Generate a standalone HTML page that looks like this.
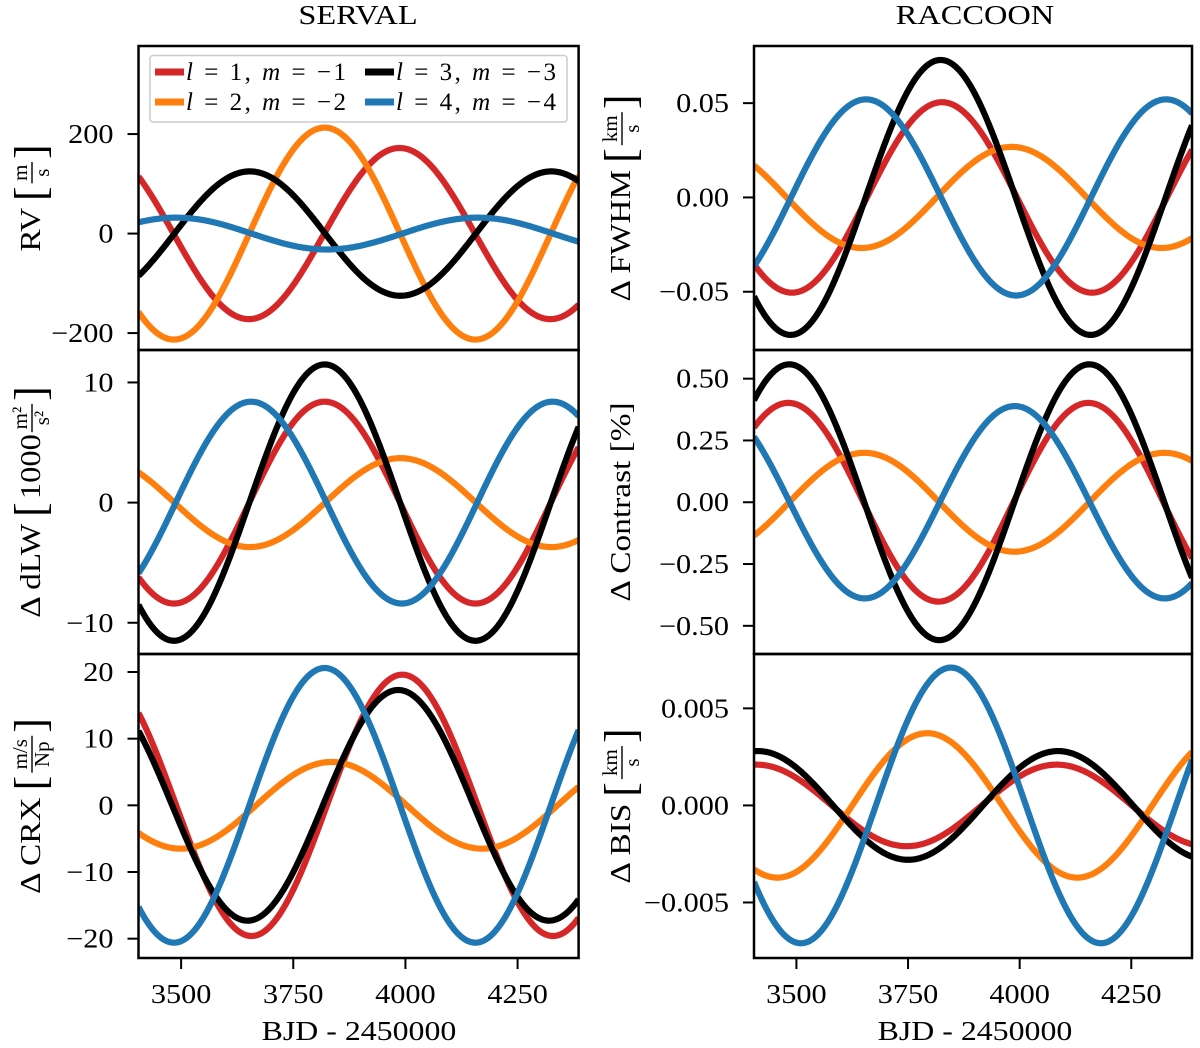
<!DOCTYPE html>
<html><head><meta charset="utf-8"><title>SERVAL vs RACCOON</title>
<style>
html,body{margin:0;padding:0;background:#fff;}
svg{display:block;font-family:"Liberation Serif","DejaVu Serif",serif;}
</style></head>
<body>
<svg id="fig" width="1200" height="1048" viewBox="0 0 1200 1048" xmlns="http://www.w3.org/2000/svg"></svg>
<script>
// ---- data ----
const seriesNames = ["l1m-1", "l2m-2", "l3m-3", "l4m-4"];
const seriesColors = ["#d62728", "#ff7f0e", "#000000", "#1f77b4"];
const periodDays = 672;
const xTicks = [3500, 3750, 4000, 4250];
const xLimits = [3405, 4386];

const rvAmp = [172, 213, 125, 32];
const rvPeak = [3987, 3820, 3653, 3489];
const dlwAmp = [8.4, 3.7, 11.5, 8.4];
const dlwPeak = [3820, 3989, 3820, 3656];
const crxAmp = [19.6, 6.5, 17.3, 20.6];
const crxPeak = [3993, 3835, 3984, 3820];
const fwhmAmp = [0.0505, 0.0268, 0.0729, 0.052];
const fwhmPeak = [3826, 3982, 3823, 3656];
const contrastAmp = [0.402, 0.2, 0.558, 0.389];
const contrastPeak = [3482, 3652, 3484, 3989];
const bisAmp = [0.0021, 0.00372, 0.0028, 0.0071];
const bisPeak = [4083, 3793, 4086, 3846];

const rvTicks = [-200, 0, 200];
const rvTickLabels = ["\u2212200", "0", "200"];
const dlwTicks = [-10, 0, 10];
const dlwTickLabels = ["\u221210", "0", "10"];
const crxTicks = [-20, -10, 0, 10, 20];
const crxTickLabels = ["\u221220", "\u221210", "0", "10", "20"];
const fwhmTicks = [-0.05, 0, 0.05];
const fwhmTickLabels = ["\u22120.05", "0.00", "0.05"];
const contrastTicks = [-0.5, -0.25, 0, 0.25, 0.5];
const contrastTickLabels = ["\u22120.50", "\u22120.25", "0.00", "0.25", "0.50"];
const bisTicks = [-0.005, 0, 0.005];
const bisTickLabels = ["\u22120.005", "0.000", "0.005"];

// ---- layout ----
const NS = "http://www.w3.org/2000/svg";
const svg = document.getElementById("fig");
function el(tag, attrs, parent) {
  const e = document.createElementNS(NS, tag);
  for (const k in attrs) e.setAttribute(k, attrs[k]);
  (parent || svg).appendChild(e);
  return e;
}
function widen(t, f) {
  const w = t.getComputedTextLength();
  if (w > 0) { t.setAttribute("textLength", (w * f).toFixed(1)); t.setAttribute("lengthAdjust", "spacingAndGlyphs"); }
  return w * f;
}
const cols = [{x0: 138.5, x1: 578.6}, {x0: 754, x1: 1192}];
const rows = [{y0: 46, y1: 350}, {y0: 350, y1: 654}, {y0: 654, y1: 958}];

const panels = [
  {name: "rv-panel", c: 0, r: 0, amp: rvAmp, peak: rvPeak, ylim: [-234, 377], ticks: rvTicks, labels: rvTickLabels},
  {name: "dlw-panel", c: 0, r: 1, amp: dlwAmp, peak: dlwPeak, ylim: [-12.6, 12.7], ticks: dlwTicks, labels: dlwTickLabels},
  {name: "crx-panel", c: 0, r: 2, amp: crxAmp, peak: crxPeak, ylim: [-22.9, 22.7], ticks: crxTicks, labels: crxTickLabels},
  {name: "fwhm-panel", c: 1, r: 0, amp: fwhmAmp, peak: fwhmPeak, ylim: [-0.0809, 0.0803], ticks: fwhmTicks, labels: fwhmTickLabels},
  {name: "contrast-panel", c: 1, r: 1, amp: contrastAmp, peak: contrastPeak, ylim: [-0.614, 0.616], ticks: contrastTicks, labels: contrastTickLabels},
  {name: "bis-panel", c: 1, r: 2, amp: bisAmp, peak: bisPeak, ylim: [-0.00786, 0.0078], ticks: bisTicks, labels: bisTickLabels}
];

panels.forEach((p, pi) => {
  const col = cols[p.c], row = rows[p.r];
  const xs = v => col.x0 + (v - xLimits[0]) / (xLimits[1] - xLimits[0]) * (col.x1 - col.x0);
  const ys = v => row.y1 - (v - p.ylim[0]) / (p.ylim[1] - p.ylim[0]) * (row.y1 - row.y0);
  const g = el("g", {});
  
  
  const cid = "clip" + pi;
  const cp = el("clipPath", {id: cid}, g);
  el("rect", {x: col.x0, y: row.y0, width: col.x1 - col.x0, height: row.y1 - row.y0}, cp);
  const curves = el("g", {"clip-path": "url(#" + cid + ")"}, g);
  for (let s = 0; s < 4; s++) {
    let d = "";
    for (let i = 0; i <= 300; i++) {
      const t = xLimits[0] + (xLimits[1] - xLimits[0]) * i / 300;
      const v = p.amp[s] * Math.cos(2 * Math.PI * (t - p.peak[s]) / periodDays);
      d += (i ? "L" : "M") + xs(t).toFixed(2) + "," + ys(v).toFixed(2);
    }
    const path = el("path", {d: d, fill: "none", stroke: seriesColors[s], "stroke-width": 6.2, "stroke-linejoin": "round"}, curves);
    
    
  }
  p.ticks.forEach((tv, i) => {
    const y = ys(tv);
    const tk = el("line", {x1: col.x0 - 11, x2: col.x0, y1: y, y2: y, stroke: "#000", "stroke-width": 2}, g);
    
    
    const tl = el("text", {x: col.x0 - 25, y: y + 9, "text-anchor": "end", "font-size": 27}, g);
    tl.textContent = p.labels[i];
    
    
    widen(tl, 1.12);
  });
  if (p.r === 2) {
    xTicks.forEach(tv => {
      const x = xs(tv);
      const tk = el("line", {x1: x, x2: x, y1: row.y1, y2: row.y1 + 11, stroke: "#000", "stroke-width": 2}, g);
      
      
      const tl = el("text", {x: x, y: 1003, "text-anchor": "middle", "font-size": 27}, g);
      tl.textContent = String(tv);
      
      
      widen(tl, 1.12);
    });
  }
  const frame = el("rect", {x: col.x0, y: row.y0, width: col.x1 - col.x0, height: row.y1 - row.y0, fill: "none", stroke: "#000", "stroke-width": 2.5}, g);
  
  
});

function txt(x, y, s, size, name, f) {
  const t = el("text", {x: x, y: y, "text-anchor": "middle", "font-size": size});
  t.textContent = s;
  
  
  widen(t, f);
  return t;
}
txt(358, 24, "SERVAL", 27, "serval-title", 1.2);
txt(975, 24, "RACCOON", 27, "raccoon-title", 1.2);
txt(359, 1040, "BJD - 2450000", 27, "x-axis-title-left", 1.18);
txt(975, 1040, "BJD - 2450000", 27, "x-axis-title-right", 1.18);

function yLabel(cx, cy, prefix, inner, num, den, name) {
  const g = el("g", {transform: "translate(" + cx + "," + cy + ") rotate(-90)"});
  
  
  let x = 0;
  const a = el("text", {x: 0, y: 10, "font-size": 29}, g);
  a.textContent = prefix;
  x += widen(a, 1.15) + 7;
  const lb = el("text", {x: x, y: 15, "font-size": 44}, g);
  lb.textContent = "[";
  x += lb.getComputedTextLength() + 3;
  if (inner) {
    const it = el("text", {x: x, y: 10, "font-size": 29}, g);
    it.textContent = inner;
    x += widen(it, 1.12) + 2;
  }
  if (num) {
    const n = el("text", {x: 0, y: -3, "font-size": 21, "text-anchor": "middle"}, g);
    n.textContent = num;
    const dd = el("text", {x: 0, y: 19, "font-size": 21, "text-anchor": "middle"}, g);
    dd.textContent = den;
    const w = Math.max(n.getComputedTextLength(), dd.getComputedTextLength()) * 1.12 + 3;
    n.setAttribute("x", x + w / 2);
    dd.setAttribute("x", x + w / 2);
    el("line", {x1: x, x2: x + w, y1: 2, y2: 2, stroke: "#000", "stroke-width": 1.4}, g);
    x += w + 3;
  }
  const rb = el("text", {x: x, y: 15, "font-size": 44}, g);
  rb.textContent = "]";
  x += rb.getComputedTextLength();
  g.setAttribute("transform", "translate(" + cx + "," + cy + ") rotate(-90) translate(" + (-x / 2) + ",0)");
}
yLabel(30, 198, "RV", "", "m", "s", "rv-axis-title");
yLabel(30, 502, "\u0394 dLW", "1000", "m\u00b2", "s\u00b2", "dlw-axis-title");
yLabel(30, 806, "\u0394 CRX", "", "m/s", "Np", "crx-axis-title");
yLabel(620, 198, "\u0394 FWHM", "", "km", "s", "fwhm-axis-title");
(function () {
  const g = el("g", {transform: "translate(620,502) rotate(-90)"});
  
  
  const t = el("text", {x: 0, y: 10, "font-size": 29, "text-anchor": "middle"}, g);
  t.textContent = "\u0394 Contrast [%]";
  widen(t, 1.15);
})();
yLabel(620, 806, "\u0394 BIS", "", "km", "s", "bis-axis-title");

const lg = el("g", {});


el("rect", {x: 150, y: 55.5, width: 417, height: 66.5, rx: 3, fill: "#fff", stroke: "#cccccc", "stroke-width": 1.5}, lg);
const legendL = ["1", "2", "3", "4"];
const legendM = ["\u22121", "\u22122", "\u22123", "\u22124"];
const legPos = [[155, 72], [155, 102], [365, 72], [365, 102]];
for (let s = 0; s < 4; s++) {
  const [lx, ly] = legPos[s];
  const e = el("g", {}, lg);
  
  
  el("line", {x1: lx, x2: lx + 29, y1: ly, y2: ly, stroke: seriesColors[s], "stroke-width": 7}, e);
  const t = el("text", {x: lx + 31, y: ly + 8, "font-size": 25, textLength: 160, lengthAdjust: "spacing"}, e);
  t.innerHTML = '<tspan font-style="italic">l</tspan> = ' + legendL[s] + ', <tspan font-style="italic">m</tspan> = ' + legendM[s];
}
</script>
</body></html>
